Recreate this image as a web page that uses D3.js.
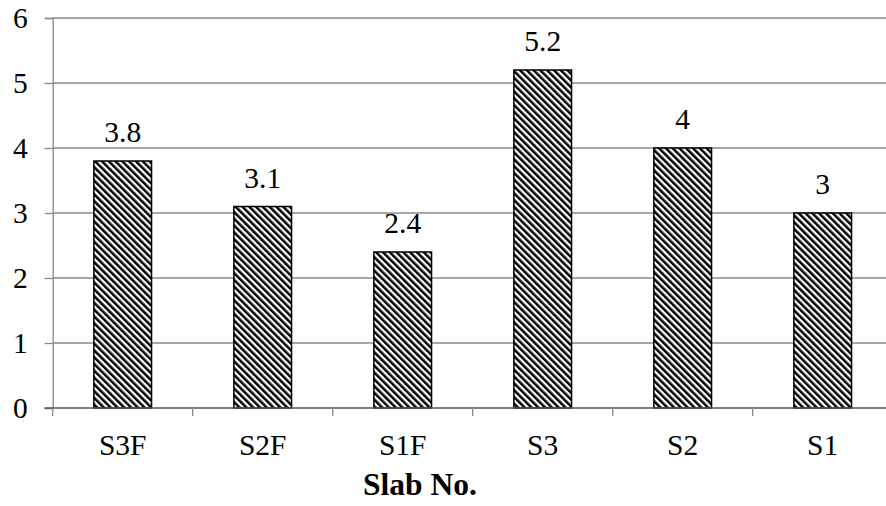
<!DOCTYPE html>
<html>
<head>
<meta charset="utf-8">
<script src="https://cdn.jsdelivr.net/npm/d3@7/dist/d3.min.js"></script>
<style>
  body { margin: 0; background: #fff; overflow: hidden; }
  svg { display: block; }
</style>
</head>
<body>
<svg id="chart" width="886" height="506"></svg>
<script>
// Slab data
const slabs = ["S3F", "S2F", "S1F", "S3", "S2", "S1"];
const values = [3.8, 3.1, 2.4, 5.2, 4, 3];
const yTicks = [0, 1, 2, 3, 4, 5, 6];
const xTitle = "Slab No.";

const FONT = "'Liberation Serif', 'Times New Roman', Times, 'DejaVu Serif', serif";
const FS = "29.5px";

const W = 886, H = 506;
// plot area runs slightly past the right edge of the canvas
const plotLeft = 52.7, plotRight = 892.7, plotTop = 18, plotBottom = 408;
const svg = d3.select("#chart").style("font-family", FONT);

const x = d3.scaleBand().domain(slabs).range([plotLeft, plotRight]).paddingInner(0.588).paddingOuter(0.294);
const band = d3.scaleBand().domain(slabs).range([plotLeft, plotRight]);
const y = d3.scaleLinear().domain([0, 6]).range([plotBottom, plotTop]);

// diagonal hatch fill
const defs = svg.append("defs");
const pat = defs.append("pattern")
  .attr("id", "hatch")
  .attr("patternUnits", "userSpaceOnUse")
  .attr("width", 4.8).attr("height", 4.8)
  .attr("patternTransform", "rotate(-45)");
pat.append("rect").attr("width", 4.8).attr("height", 4.8).attr("fill", "#fff");
pat.append("rect").attr("x", 0).attr("y", 0).attr("width", 2.5).attr("height", 4.8).attr("fill", "#000");

// gridlines
svg.append("g")
  .selectAll("line")
  .data(yTicks.filter(d => d > 0))
  .join("line")
  .attr("x1", plotLeft).attr("x2", plotRight)
  .attr("y1", d => y(d)).attr("y2", d => y(d))
  .attr("stroke", "#8a8a8a").attr("stroke-width", 1.3);

// y axis
const yAxis = svg.append("g")
  .attr("transform", `translate(${plotLeft},0)`)
  .call(d3.axisLeft(y).tickValues(yTicks).tickSize(8).tickPadding(17).tickFormat(d3.format("d")));
yAxis.attr("font-family", null).attr("font-size", null);
yAxis.select(".domain").attr("stroke", "#888").attr("stroke-width", 1.3);
yAxis.selectAll(".tick line").attr("stroke", "#888").attr("stroke-width", 1.3);
yAxis.selectAll(".tick text")
  .style("font-size", FS).style("font-family", FONT).attr("fill", "#000");

// bars
svg.append("g")
  .selectAll("rect")
  .data(slabs)
  .join("rect")
  .attr("x", d => x(d))
  .attr("width", x.bandwidth())
  .attr("y", (d, i) => y(values[i]))
  .attr("height", (d, i) => y(0) - y(values[i]))
  .attr("fill", "url(#hatch)")
  .attr("stroke", "#000").attr("stroke-width", 1.5);

// x axis baseline with category boundary ticks
const xg = svg.append("g");
xg.append("line")
  .attr("x1", plotLeft - 8).attr("x2", plotRight)
  .attr("y1", y(0)).attr("y2", y(0))
  .attr("stroke", "#555").attr("stroke-width", 1.5);
const bounds = slabs.map(s => band(s)).concat([plotRight]);
xg.selectAll("line.b")
  .data(bounds)
  .join("line").attr("class", "b")
  .attr("x1", d => d).attr("x2", d => d)
  .attr("y1", y(0)).attr("y2", y(0) + 8)
  .attr("stroke", "#888").attr("stroke-width", 1.3);

// category labels
xg.selectAll("text")
  .data(slabs)
  .join("text")
  .attr("x", d => band(d) + band.bandwidth() / 2)
  .attr("y", y(0) + 47)
  .attr("text-anchor", "middle")
  .style("font-family", FONT)
  .style("font-size", FS)
  .attr("fill", "#000")
  .text(d => d);

// value labels
svg.append("g")
  .selectAll("text")
  .data(slabs)
  .join("text")
  .attr("x", d => band(d) + band.bandwidth() / 2)
  .attr("y", (d, i) => y(values[i]) - 19)
  .attr("text-anchor", "middle")
  .style("font-family", FONT)
  .style("font-size", FS)
  .attr("fill", "#000")
  .text((d, i) => values[i]);

// axis title
svg.append("text")
  .attr("x", 420)
  .attr("y", 495)
  .attr("text-anchor", "middle")
  .style("font-family", FONT)
  .style("font-size", "31.5px")
  .style("font-weight", "bold")
  .attr("fill", "#000")
  .text(xTitle);
</script>
</body>
</html>
